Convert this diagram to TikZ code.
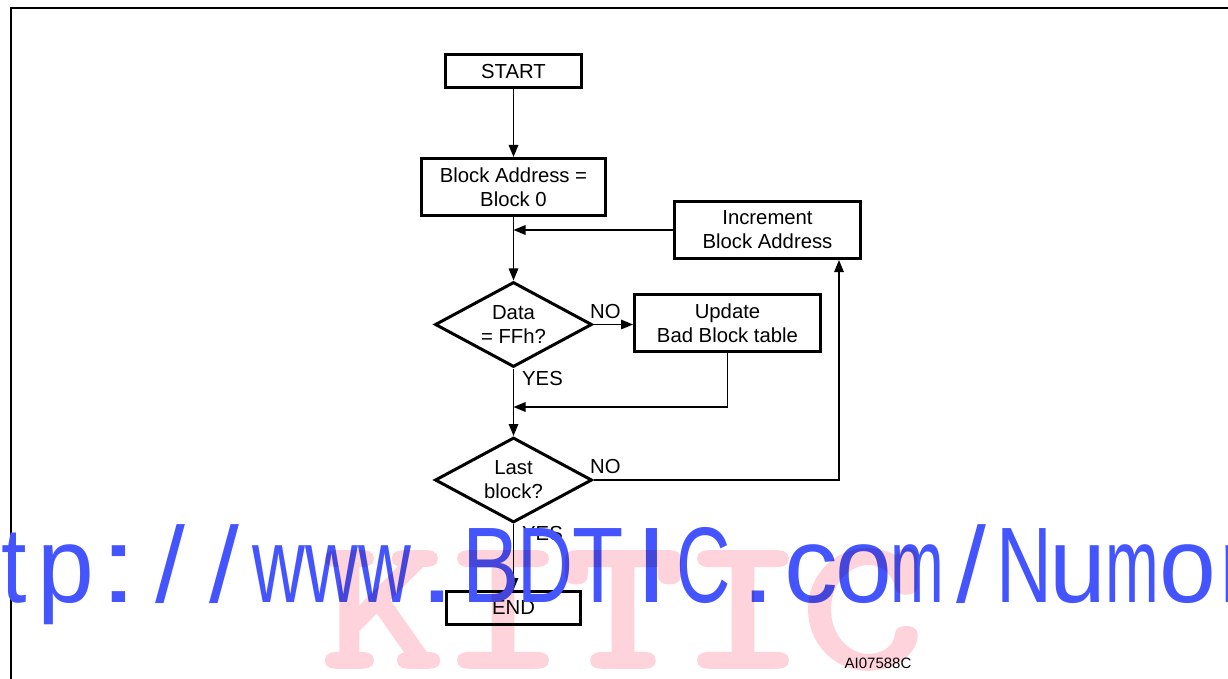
\documentclass[tikz,border=0pt]{standalone}
\usepackage{fontspec}
\setmainfont{Liberation Sans}
\newfontfamily\pinkfont[FakeBold=3]{lmmono10-regular.otf}
\usetikzlibrary{arrows.meta,shapes.geometric}
\definecolor{wmblue}{RGB}{68,85,255}
\definecolor{wmpink}{RGB}{255,211,219}
\newcommand\flbl{\fontsize{20.3pt}{24pt}\selectfont}
\newcommand\fsmall{\fontsize{15pt}{18pt}\selectfont}
\newcommand\fwmb{\fontsize{107.5pt}{110pt}\selectfont}
\newcommand\fwmp{\pinkfont\fontsize{185pt}{190pt}\selectfont}
\begin{document}
\begin{tikzpicture}[x=1pt,y=-1pt,
 box/.style={draw,line width=3pt,inner sep=0pt,align=center,font=\flbl},
 dec/.style={diamond,aspect=1.85,draw,line width=3pt,inner sep=0pt,align=center,font=\flbl,minimum width=157pt,minimum height=85pt},
 conn/.style={line width=1.5pt,-{Triangle[length=12pt,width=9.5pt]}},
 lab/.style={font=\flbl,anchor=base west,inner sep=0pt},
 wmb/.style={text=wmblue,font=\fwmb,anchor=base,inner sep=0pt},
 wmp/.style={text=wmpink,font=\fwmp,anchor=base,inner sep=0pt}]
\useasboundingbox (0,0) rectangle (1228,679);
\draw[line width=1.8pt] (11,679) -- (11,8) -- (1228,8);
\node[box,minimum width=136pt,minimum height=33pt] (start) at (513.5,71.5) {START};
\node[box,minimum width=184pt,minimum height=57pt] (bas) at (513.5,187) {Block Address =\\Block 0};
\node[box,minimum width=186pt,minimum height=57pt] (inc) at (767.5,230) {Increment\\Block Address};
\node[dec] (d1) at (513.5,324.5) {Data\\= FFh?};
\node[box,minimum width=186pt,minimum height=57pt] (upd) at (727.5,323) {Update\\Bad Block table};
\node[dec] (d2) at (513.5,480) {Last\\block?};
\node[box,minimum width=134pt,minimum height=33pt] (end) at (513.5,608) {END};
\draw[conn] (start) -- (bas);
\draw[conn] (bas) -- (d1);
\coordinate (j1) at (513.5,230);
\draw[conn] (inc.west) -- (j1);
\draw[conn] (d1.east) -- (d1.east -| upd.west);
\coordinate (j2) at (513.5,407);
\draw[conn] (upd.south) |- (j2);
\draw[conn] (d1) -- (d2);
\coordinate (c2) at (839,480);
\draw[conn] (d2.east) -- (c2) -- (c2 |- inc.south);
\draw[conn] (d2) -- (end);
\node[lab] (no1) at (590,318) {NO};
\node[lab] (yes1) at (522,385) {YES};
\node[lab] (no2) at (590,473) {NO};
\node[lab] (yes2) at (522,540) {YES};
\node[font=\fsmall,anchor=base,inner sep=0pt] (code) at (878,668) {AI07588C};
\foreach \c/\x/\s [count=\i] in {t/14/0.85,p/66/0.95,:/119/1.3,{/}/170/1,{/}/224.5/1,w/279/0.68,w/332/0.68,w/385/0.68,./437/1.2,B/491.5/0.8,D/545.5/0.72,T/598/0.78,I/651.5/1.1,C/704/0.7,./758/1.2,c/811/1,o/864/0.95,m/917/0.6,{/}/971/1,N/1024.5/0.72,u/1078/0.95,m/1132/0.6,o/1188/0.95,r/1236/0.9}
  \node[wmb] (wb\i) at (\x,602) {\scalebox{\s}[1]{\c}};
\begin{scope}[blend mode=multiply]
\begin{scope}[transparency group]
\foreach \c [count=\i from 0] in {K,I,T,I,C}
  \node[wmp] (wp\i) at (383+120*\i,666) {\scalebox{1.25}[1]{\c}};
\end{scope}
\end{scope}
\end{tikzpicture}
\end{document}
